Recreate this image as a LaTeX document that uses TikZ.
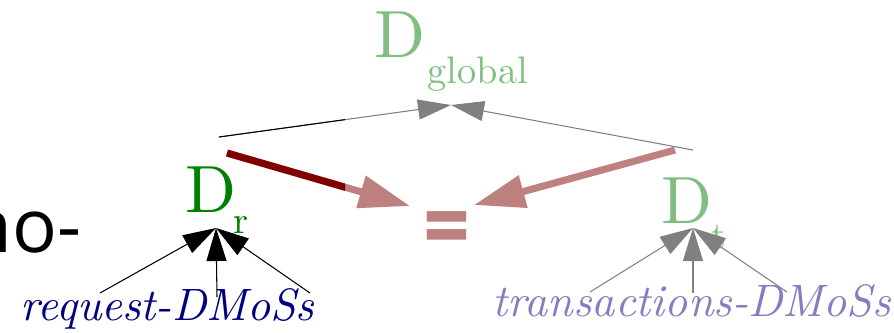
\documentclass[tikz,border=0pt]{standalone}
\usepackage{fontspec}
\setmainfont{lmroman10-regular.otf}[ItalicFont=lmroman10-italic.otf,BoldFont=lmroman10-bold.otf]
\usetikzlibrary{arrows.meta,positioning,calc}
\newfontfamily\popfont{Poppins}
\newfontfamily\slidefont{Open Sans}
\definecolor{dgreen}{rgb}{0,0.5,0}
\definecolor{lgreen}{rgb}{0.5,0.75,0.5}
\definecolor{navyblue}{rgb}{0,0,0.5}
\definecolor{lblue}{rgb}{0.5,0.5,0.75}
\definecolor{dred}{rgb}{0.5,0,0}
\definecolor{lred}{rgb}{0.75,0.5,0.5}

\begin{document}
\begin{tikzpicture}[x=0.01cm,y=-0.01cm,
    bigD/.style={font=\fontsize{19}{21}\selectfont,inner sep=0,anchor=base west},
    sub/.style={font=\fontsize{10.9}{12}\selectfont,inner sep=0,anchor=base west},
    dmos/.style={font=\fontsize{12.9}{14}\selectfont\itshape,inner sep=0,anchor=base west},
    thinarr/.style={line width=0.3pt,-{Triangle[length=0.33cm,width=0.2cm]}},
    thickarr/.style={line width=2pt,-{Triangle[length=0.51cm,width=0.32cm]}}]
    \clip (0,0) rectangle (894,332);
    % slide text cut at the edge
    \node[font=\slidefont\fontsize{21.2}{23}\selectfont,inner sep=0,anchor=base west] (slide) at (-34,252) {no-};
    % the three D's
    \node[bigD,lgreen] (Dg) at (374,57) {D};
    \node[sub,lgreen] (gsub) at (427,83) {global};
    \node[bigD,dgreen] (Dr) at (185,212) {D};
    \node[sub,dgreen] (rsub) at (233,233) {r};
    \node[bigD,lgreen] (Dt) at (661,223) {D};
    \node[sub,lgreen] (tsub) at (711,248) {t};
    \node[font=\popfont\bfseries\fontsize{20}{22}\selectfont,lred,inner sep=0] (eq) at (447,231) {=};
    % labels
    \node[dmos,navyblue] (req) at (20,320) {request-DMoSs};
    \node[dmos,lblue] (trans) at (492,316) {transactions-DMoSs};
    % end points
    \coordinate (gtip) at (451,105);
    \coordinate (rtop) at (219,137);
    \coordinate (ttop) at (693,150);
    \coordinate (rstart) at (227,153);
    \coordinate (tstart) at (675,150);
    \coordinate (eqL) at (410,206);
    \coordinate (eqR) at (474,205);
    \coordinate (rtip) at (216,228);
    \coordinate (ttip) at (693,228);
    \coordinate (rq1) at (100,293);
    \coordinate (rq2) at (217,297);
    \coordinate (rq3) at (310,293);
    \coordinate (tr1) at (590,292);
    \coordinate (tr2) at (693,293);
    \coordinate (tr3) at (787,292);
    % up to D global
    \draw[thinarr,gray] (rtop) -- (gtip);
    \draw[thinarr,gray] (ttop) -- (gtip);
    % into =
    \draw[thickarr,lred] (rstart) -- (eqL);
    \draw[thickarr,lred] (tstart) -- (eqR);
    \begin{scope}
        \clip (0,0) rectangle (345,332);
        \draw[thinarr,black] (rtop) -- (gtip);
        \draw[thickarr,dred] (rstart) -- (eqL);
    \end{scope}
    % from the DMoSs
    \foreach \i in {1,2,3} {
        \draw[thinarr,black] (rq\i) -- (rtip);
        \draw[thinarr,gray] (tr\i) -- (ttip);
    }
\end{tikzpicture}
\end{document}
